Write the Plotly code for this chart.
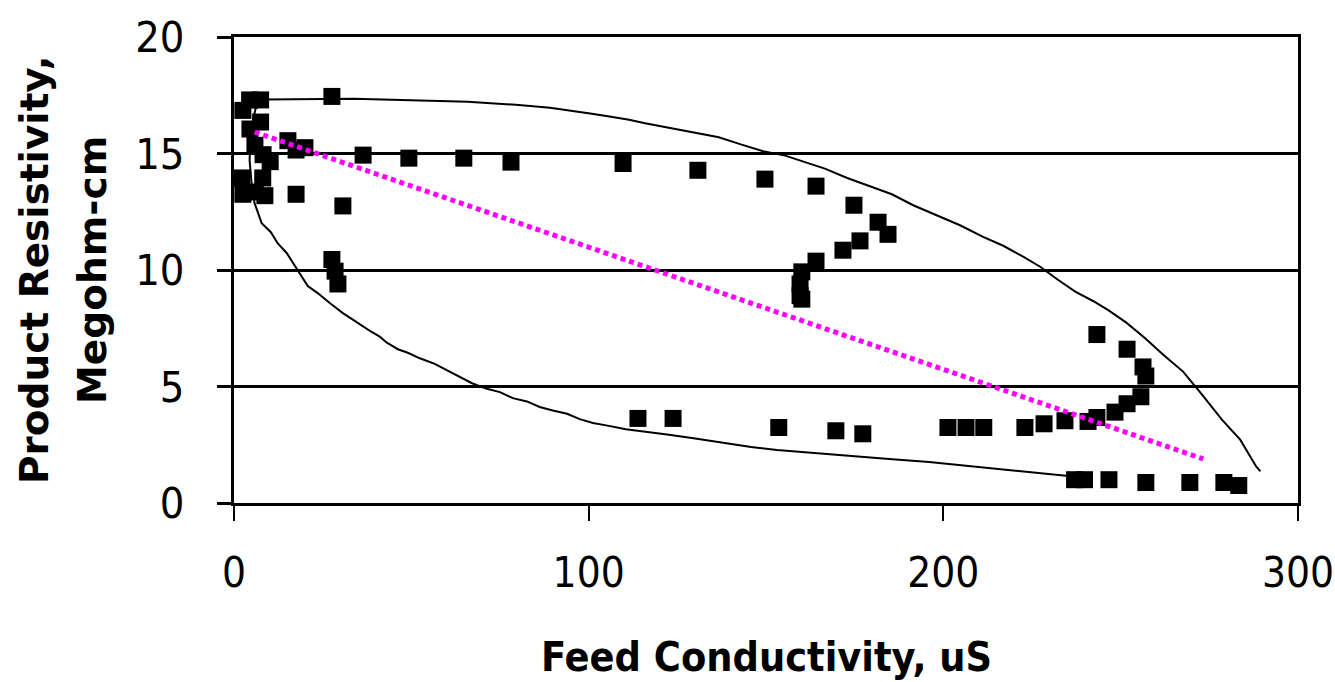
import plotly.graph_objects as go

# Measured data points (Feed Conductivity uS, Product Resistivity Megohm-cm)
feed_x = [2.5, 4.4, 7.5, 4.5, 7.5, 5.9, 8.2, 10.2, 15.2, 17.5, 20.0, 2.2, 8.1, 2.5, 8.7, 6.0, 17.5, 27.6, 30.7, 27.6, 28.5, 29.3,
          36.4, 49.3, 64.8, 78.1, 109.7, 130.8, 149.7, 164.1, 174.8, 181.6, 184.4, 176.5, 171.7, 164.1, 160.1, 159.6, 159.6, 160.1,
          243.3, 251.8, 256.3, 257.1, 255.7, 251.8, 248.4, 243.3, 240.8, 234.3, 228.4, 223.0, 211.4, 206.4, 201.3, 177.3, 169.7, 153.6, 123.8, 113.9,
          237.0, 239.8, 246.7, 257.1, 269.5, 279.1, 283.3]
resist_y = [16.85, 17.3, 17.3, 16.05, 16.35, 15.35, 14.95, 14.65, 15.55, 15.15, 15.25, 13.95, 13.95, 13.25, 13.19, 13.35, 13.25, 17.45, 12.75, 10.45, 9.95, 9.4,
            14.93, 14.8, 14.8, 14.63, 14.57, 14.28, 13.9, 13.6, 12.78, 12.05, 11.53, 11.25, 10.85, 10.38, 9.92, 9.4, 8.9, 8.75,
            7.23, 6.6, 5.84, 5.45, 4.56, 4.26, 3.9, 3.67, 3.5, 3.53, 3.4, 3.24, 3.24, 3.24, 3.24, 2.97, 3.1, 3.24, 3.63, 3.63,
            1.0, 1.0, 1.0, 0.88, 0.88, 0.88, 0.75]

# Hand-drawn envelope curve around the data
env_x = [234.6, 224.5, 215.2, 206.1, 196.0, 184.7, 172.9, 162.1, 153.1, 145.8, 140.1, 135.0, 129.1, 122.1, 115.6, 110.5, 105.7,
         101.2, 97.5, 93.9, 89.9, 86.2, 82.6, 78.6, 75.0, 71.3, 67.1, 63.7, 60.3, 56.6, 52.4, 49.0, 46.2, 43.1, 41.1, 38.8, 34.9,
         30.7, 27.0, 23.6, 20.8, 18.5, 16.8, 14.9, 12.3, 10.4, 7.8, 6.4, 5.8, 5.0, 4.4, 4.7, 6.1, 8.7,
         33.8, 65.9, 79.5, 89.1, 95.3, 100.9, 106.3, 111.4, 115.9, 120.7, 124.9, 129.1, 136.7, 142.9, 149.2, 155.4, 161.6, 166.6,
         172.9, 179.9, 185.5, 191.5, 197.7, 204.7, 211.2, 216.9, 222.5, 227.3, 232.4, 237.2, 242.2, 246.5, 251.6, 256.9, 262.0,
         267.6, 273.0, 278.6, 283.7, 288.2, 289.4]
env_y = [1.17, 1.33, 1.47, 1.61, 1.76, 1.89, 2.02, 2.15, 2.27, 2.40, 2.54, 2.66, 2.79, 2.94, 3.06, 3.17, 3.31,
         3.43, 3.60, 3.83, 3.97, 4.12, 4.36, 4.50, 4.76, 4.90, 5.14, 5.40, 5.67, 5.97, 6.21, 6.45, 6.60, 6.88, 7.14, 7.34, 7.73,
         8.15, 8.58, 9.01, 9.31, 9.87, 10.30, 10.72, 11.15, 11.62, 12.01, 12.65, 12.87, 13.64, 14.71, 15.99, 16.93, 17.32,
         17.35, 17.22, 17.09, 16.96, 16.84, 16.71, 16.58, 16.45, 16.30, 16.16, 16.02, 15.89, 15.70, 15.39, 15.10, 14.91, 14.61, 14.35,
         13.95, 13.56, 13.25, 12.78, 12.39, 11.92, 11.42, 11.04, 10.57, 10.14, 9.57, 9.07, 8.67, 8.28, 7.74, 7.07, 6.36,
         5.64, 4.64, 3.57, 2.72, 1.57, 1.36]

# Linear trendline endpoints
trend_x = [5.84, 273.3]
trend_y = [15.92, 1.89]

x_ticks = [0, 100, 200, 300]
y_ticks = [0, 5, 10, 15, 20]

NARROW = "Liberation Sans Narrow, DejaVu Sans Condensed, Roboto Condensed, Arial Narrow, sans-serif"

fig = go.Figure()
fig.add_trace(go.Scatter(x=env_x, y=env_y, mode="lines",
                         line=dict(color="black", width=2), hoverinfo="skip"))
fig.add_trace(go.Scatter(x=feed_x, y=resist_y, mode="markers",
                         marker=dict(symbol="square", size=17, color="black", line=dict(width=0))))
fig.add_trace(go.Scatter(x=trend_x, y=trend_y, mode="lines",
                         line=dict(color="#FF00FF", width=5, dash="5px,4px")))

fig.update_layout(
    width=1335, height=682,
    margin=dict(l=234, r=37, t=37, b=179),
    paper_bgcolor="white", plot_bgcolor="white",
    showlegend=False,
    xaxis=dict(range=[0, 300], tickvals=x_ticks, ticks="outside", ticklen=15, tickwidth=2,
               tickcolor="black", showline=True, linecolor="black", linewidth=3, mirror=True,
               showgrid=False, zeroline=False, tickfont=dict(family=NARROW, size=42, color="black"),
               ticklabelstandoff=16, ticklabeloverflow="allow", automargin=False),
    yaxis=dict(range=[0, 20], tickvals=y_ticks, ticks="outside", ticklen=14, tickwidth=3,
               tickcolor="black", showline=True, linecolor="black", linewidth=3, mirror=True,
               showgrid=True, gridcolor="black", gridwidth=3, zeroline=False,
               tickfont=dict(family=NARROW, size=43, color="black"), ticklabelstandoff=24,
               ticklabeloverflow="allow", automargin=False),
    annotations=[
        dict(text="<b>Product Resistivity,</b>", xref="paper", yref="paper", x=0, y=0.5,
             xanchor="center", yanchor="middle", xshift=-200, textangle=-90, showarrow=False,
             font=dict(family="DejaVu Sans", size=39, color="black")),
        dict(text="<b>Megohm-cm</b>", xref="paper", yref="paper", x=0, y=0.5,
             xanchor="center", yanchor="middle", xshift=-142, textangle=-90, showarrow=False,
             font=dict(family="DejaVu Sans", size=39, color="black")),
        dict(text="<b>Feed Conductivity, uS</b>", xref="paper", yref="paper", x=0.5, y=0,
             xanchor="center", yanchor="middle", yshift=-154, showarrow=False,
             font=dict(family=NARROW, size=41, color="black")),
    ],
)

fig.write_html("out.html", config={"displayModeBar": False},
               post_script="document.body.style.margin='0';document.body.style.overflow='hidden';")
